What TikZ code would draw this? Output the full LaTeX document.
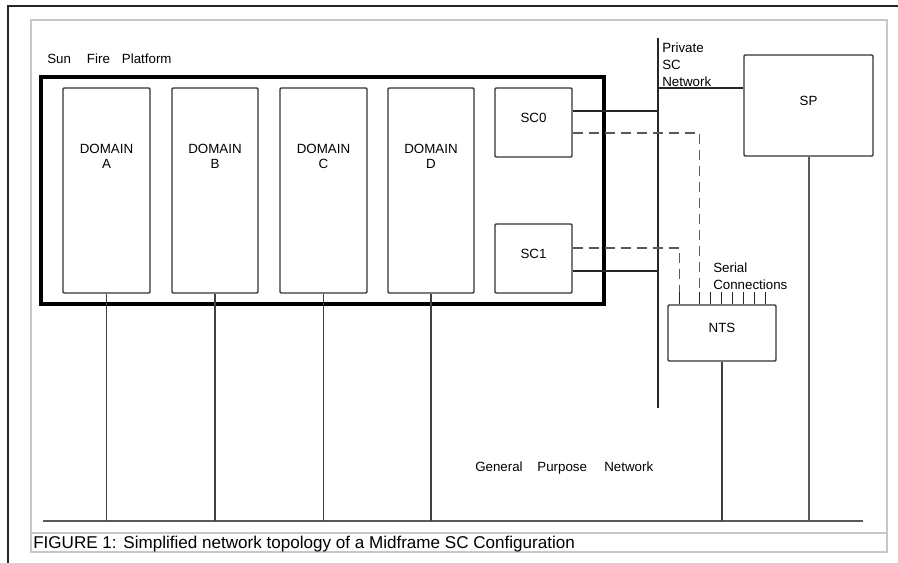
\documentclass[tikz,border=0pt]{standalone}
\usepackage{fontspec}
\setmainfont{Liberation Sans}
\usetikzlibrary{fit,calc}
\begin{document}
\begin{tikzpicture}[x=0.75pt,y=-0.75pt,
  lbl/.style={font=\fontsize{10}{12}\selectfont, inner sep=0pt},
  boxn/.style={draw=black!80, line width=1.1pt, inner sep=0pt, rounded corners=0.8pt, font=\fontsize{10}{12}\selectfont},
  platbox/.style={draw=black, line width=2.3pt, inner sep=0pt},
  conn/.style={draw=black!85, line width=0.9pt},
  dashln/.style={draw=black!65, line width=1.1pt, dash pattern=on 7.5pt off 4.5pt},
  busln/.style={draw=black!65, line width=1.8pt},
  drop/.style={draw=black!75, line width=1.1pt},
  outerln/.style={draw=black!85, line width=1.1pt},
  frameln/.style={draw=black!22, line width=1.2pt}
]
\useasboundingbox (0,0) rectangle (898,563);
\fill[white] (0,0) rectangle (898,563);

% frames
\draw[outerln] (898,6) -- (8,6) -- (8,563);
\draw[frameln] (31,20) rectangle (887,552);
\draw[frameln] (31,533) -- (887,533);

% platform and boxes
\node[platbox, fit={(41,77) (604,304)}] (plat) {};
\node[lbl, anchor=base west] (sfp) at (47,64) {Sun\hspace{12pt}Fire\hspace{9pt}Platform};

\node[boxn, fit={(63,88) (150,293)}] (da) {};
\node[boxn, fit={(172,88) (258,293)}] (db) {};
\node[boxn, fit={(280,88) (367,293)}] (dc) {};
\node[boxn, fit={(388,88) (474,293)}] (dd) {};

\node[lbl, anchor=base] (dat) at (da.center |- 0,153) {DOMAIN};
\node[lbl, anchor=base] (dal) at (da.center |- 0,168) {A};
\node[lbl, anchor=base] (dbt) at (db.center |- 0,153) {DOMAIN};
\node[lbl, anchor=base] (dbl) at (db.center |- 0,168) {B};
\node[lbl, anchor=base] (dct) at (dc.center |- 0,153) {DOMAIN};
\node[lbl, anchor=base] (dcl) at (dc.center |- 0,168) {C};
\node[lbl, anchor=base] (ddt) at (dd.center |- 0,153) {DOMAIN};
\node[lbl, anchor=base] (ddl) at (dd.center |- 0,168) {D};

\node[boxn, fit={(495,88) (572,157)}] (sc0) {SC0};
\node[boxn, fit={(495,224) (572,293)}] (sc1) {SC1};
\node[boxn, fit={(744,55) (873,156)}] (sp) {SP};
\node[boxn, fit={(668,305) (776,361)}] (nts) {NTS};

% networks
\coordinate (busL) at (43,521);
\coordinate (busR) at (863,521);
\coordinate (pnT) at (658,38);
\coordinate (pnB) at (658,408);
\draw[busln] (busL) -- (busR);
\draw[conn] (pnT) -- (pnB);

\node[lbl, anchor=base west] (pv1) at (662,53) {Private};
\node[lbl, anchor=base west] (pv2) at (662,70) {SC};
\node[lbl, anchor=base west] (pv3) at (662,86.5) {Network};

% domain drops
\draw[drop] (da.south) -- (da.south |- busL);
\draw[drop] (db.south) -- (db.south |- busL);
\draw[drop] (dc.south) -- (dc.south |- busL);
\draw[drop] (dd.south) -- (dd.south |- busL);

% SC connections
\coordinate (s0a) at ($(sc0.east)+(0,-11.5)$);
\coordinate (s0b) at ($(sc0.east)+(0,10.5)$);
\coordinate (s1a) at ($(sc1.east)+(0,-10.5)$);
\coordinate (s1b) at ($(sc1.east)+(0,12.5)$);
\coordinate (t1) at ($(nts.north west)+(12,0)$);
\coordinate (t2) at ($(nts.north west)+(32,0)$);
\draw[conn] (s0a) -- (s0a -| pnT);
\draw[conn] (s1b) -- (s1b -| pnT);
\draw[dashln] (s0b) -| (t2);
\draw[dashln] (s1a) -| (t1);

% serial ticks
\foreach \dx in {12,32,43,54,65,76,87,98}
  \draw[conn] ($(nts.north west)+(\dx,0)$) -- ++(0,-12);
\node[lbl, anchor=base west] (ser1) at (713,272) {Serial};
\node[lbl, anchor=base west] (ser2) at (713,289) {Connections};

% SP
\coordinate (spc) at ($(sp.west)+(0,-17.5)$);
\draw[conn] (spc) -- (spc -| pnT);
\draw[busln, line width=1.5pt] (sp.south) -- (sp.south |- busL);
\draw[drop] (nts.south) -- (nts.south |- busL);

\node[lbl, anchor=base west] (gpn) at (475,471) {General\hspace{11pt}Purpose\hspace{13pt}Network};

\node[anchor=base west, inner sep=0pt, font=\fontsize{12.8}{14}\selectfont] (cap) at (33,548.5) {FIGURE 1:\hspace{5pt}Simplified network topology of a Midframe SC Configuration};
\end{tikzpicture}
\end{document}
